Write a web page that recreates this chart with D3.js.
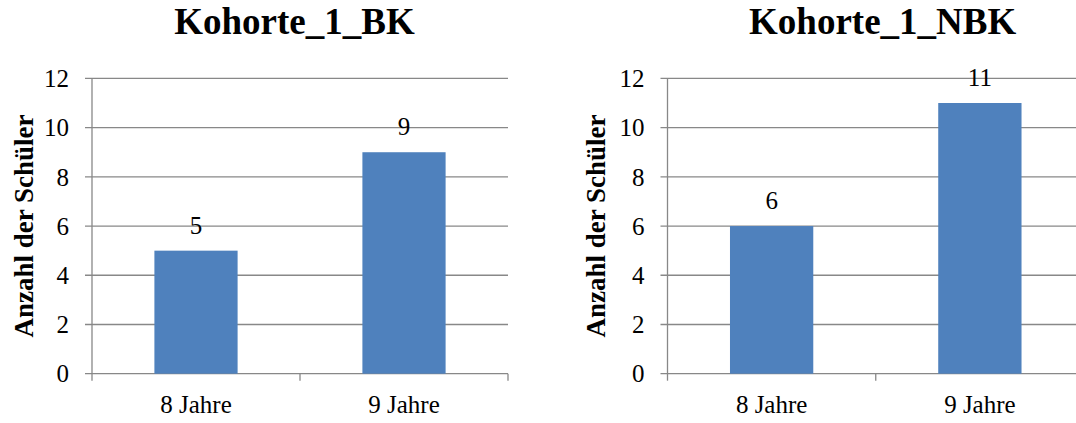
<!DOCTYPE html>
<html>
<head>
<meta charset="utf-8">
<script src="https://cdn.jsdelivr.net/npm/d3@7"></script>
<style>
  html, body { margin: 0; padding: 0; background: #fff; }
  svg { display: block; }
</style>
</head>
<body>
<svg id="chart" width="1076" height="423"></svg>
<script>
// Age groups on the x axis
const categories = ["8 Jahre", "9 Jahre"];
// Number of pupils per age group, one array per cohort
const valuesBK = [5, 9];
const valuesNBK = [6, 11];
// Chart titles
const titles = ["Kohorte_1_BK", "Kohorte_1_NBK"];
// Y axis ticks
const yTicks = [0, 2, 4, 6, 8, 10, 12];
const yTitle = "Anzahl der Schüler";

const serif = "'Liberation Serif', 'Times New Roman', Times, serif";

const svg = d3.select("#chart");

const panels = [
  { title: titles[0], values: valuesBK, left: 92, right: 508, titleX: 294.5, yTitleX: 33 },
  { title: titles[1], values: valuesNBK, left: 667.5, right: 1084, titleX: 882.7, yTitleX: 605 }
];

const plotTop = 78.4, plotBottom = 373.7;
const gridColor = "#888888";
const barColor = "#4F81BD";

panels.forEach(p => {
  const g = svg.append("g").attr("font-family", serif).attr("fill", "#000");

  const x = d3.scaleBand().domain(categories).range([p.left, p.right])
    .paddingInner(0.6).paddingOuter(0.3);
  const y = d3.scaleLinear().domain([0, 12]).range([plotBottom, plotTop]);

  // horizontal gridlines, extended left of the axis as tick marks
  g.selectAll("line.grid").data(yTicks).join("line")
    .attr("class", "grid")
    .attr("x1", p.left - 7).attr("x2", p.right)
    .attr("y1", d => y(d)).attr("y2", d => y(d))
    .attr("stroke", gridColor).attr("stroke-width", 1.3);

  // y tick labels
  g.selectAll("text.ytick").data(yTicks).join("text")
    .attr("class", "ytick")
    .attr("x", p.left - 23)
    .attr("y", d => y(d))
    .attr("dy", "0.35em")
    .attr("text-anchor", "end")
    .attr("font-size", 25)
    .text(d => d);

  // bars
  g.selectAll("rect.bar").data(p.values).join("rect")
    .attr("class", "bar")
    .attr("x", (d, i) => x(categories[i]))
    .attr("width", x.bandwidth())
    .attr("y", d => y(d))
    .attr("height", d => y(0) - y(d))
    .attr("fill", barColor);

  // vertical axis line
  g.append("line")
    .attr("x1", p.left).attr("x2", p.left)
    .attr("y1", plotTop).attr("y2", plotBottom)
    .attr("stroke", gridColor).attr("stroke-width", 1.3);

  // category boundary ticks below the x axis
  const bounds = [p.left].concat(categories.map(c => x(c) - x.step() * x.paddingInner() / 2 + x.step()));
  g.selectAll("line.xtick").data(bounds).join("line")
    .attr("class", "xtick")
    .attr("x1", d => d).attr("x2", d => d)
    .attr("y1", plotBottom).attr("y2", plotBottom + 7)
    .attr("stroke", gridColor).attr("stroke-width", 1.3);

  // x category labels
  g.selectAll("text.xlab").data(categories).join("text")
    .attr("class", "xlab")
    .attr("x", d => x(d) + x.bandwidth() / 2)
    .attr("y", 413)
    .attr("text-anchor", "middle")
    .attr("font-size", 25)
    .text(d => d);

  // value labels above bars
  g.selectAll("text.val").data(p.values).join("text")
    .attr("class", "val")
    .attr("x", (d, i) => x(categories[i]) + x.bandwidth() / 2)
    .attr("y", d => y(d) - 17)
    .attr("text-anchor", "middle")
    .attr("font-size", 25)
    .text(d => d);

  // chart title
  g.append("text")
    .attr("x", p.titleX).attr("y", 34.3)
    .attr("text-anchor", "middle")
    .attr("font-size", 37).attr("font-weight", "bold")
    .text(p.title);

  // y axis title
  g.append("text")
    .attr("transform", `translate(${p.yTitleX},${(plotTop + plotBottom) / 2}) rotate(-90)`)
    .attr("text-anchor", "middle")
    .attr("font-size", 27).attr("font-weight", "bold")
    .text(yTitle);
});
</script>
</body>
</html>
